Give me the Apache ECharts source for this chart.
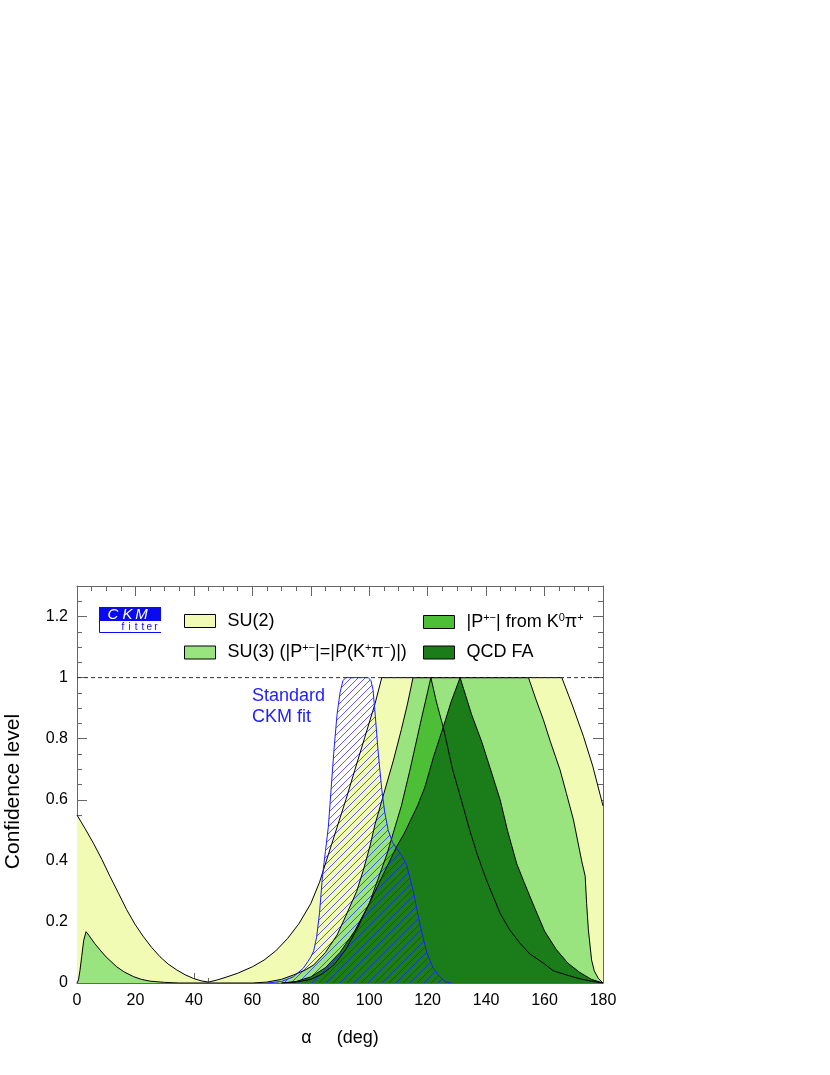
<!DOCTYPE html>
<html><head><meta charset="utf-8">
<script src="https://cdn.jsdelivr.net/npm/echarts@6/dist/echarts.min.js"></script>
<style>html,body{margin:0;padding:0;background:#fff}#c{width:830px;height:1075px}</style>
</head><body><div id="c"></div>
<script>
// ---- data (alpha in degrees, confidence level) ----
const su2Alpha = [0, 2.8, 5.6, 8.5, 11.3, 14.2, 17, 19.8, 22.7, 25.5, 28.4, 31.2, 34.1, 37, 39.8, 42.5, 45, 48, 51, 55, 60, 64, 68, 72, 76, 80, 83, 86, 89, 92, 95, 98.5, 102, 104.3, 165.9, 169.5, 173.3, 176.5, 180];
const su2CL    = [0.55, 0.505, 0.458, 0.405, 0.349, 0.294, 0.24, 0.193, 0.152, 0.117, 0.086, 0.062, 0.043, 0.027, 0.015, 0.007, 0.003, 0.01, 0.019, 0.032, 0.053, 0.075, 0.105, 0.145, 0.195, 0.26, 0.33, 0.42, 0.51, 0.60, 0.695, 0.805, 0.915, 1.0, 1.0, 0.91, 0.808, 0.71, 0.58];

const su3Alpha = [0, 0.5, 1, 1.6, 2.3, 3.1, 4, 6, 7.9, 10, 13.6, 16, 19.3, 22, 25, 30, 35, 60, 65, 70, 74, 78, 81, 85, 89, 92, 95.7, 98, 100.3, 102, 105, 108.3, 111, 113, 115, 154.5, 157, 159.6, 162, 165.3, 167.5, 169.9, 172.7, 173.9, 174.4, 175, 176.1, 177, 178.4, 180];
const su3CL    = [0, 0.01, 0.04, 0.086, 0.14, 0.168, 0.157, 0.13, 0.108, 0.085, 0.053, 0.037, 0.021, 0.012, 0.006, 0.002, 0, 0, 0.003, 0.012, 0.026, 0.042, 0.059, 0.10, 0.157, 0.22, 0.30, 0.37, 0.45, 0.52, 0.62, 0.73, 0.83, 0.91, 1.0, 1.0, 0.93, 0.862, 0.79, 0.698, 0.62, 0.534, 0.40, 0.35, 0.26, 0.174, 0.075, 0.04, 0.015, 0];

const pAlpha = [70, 75, 80, 84, 88, 92, 96, 100, 103, 106, 108.5, 111, 114, 117.5, 121.1, 123, 125.4, 128.5, 131.5, 134.4, 137, 140, 144.8, 148, 151.6, 155, 159.6, 163, 167.6, 172, 176, 180];
const pCL    = [0, 0.003, 0.012, 0.03, 0.06, 0.11, 0.18, 0.26, 0.34, 0.42, 0.50, 0.58, 0.70, 0.85, 1.0, 0.92, 0.835, 0.70, 0.60, 0.50, 0.42, 0.34, 0.228, 0.175, 0.13, 0.095, 0.065, 0.04, 0.026, 0.014, 0.006, 0];

const qcdAlpha = [70, 75, 80, 85, 90, 95, 100, 105, 109.4, 112, 114, 116.5, 119, 122, 125.4, 128, 131.1, 135, 138.5, 141.5, 144.8, 147.3, 150.5, 153, 156, 160, 164, 168, 172, 176, 180];
const qcdCL    = [0, 0.005, 0.02, 0.05, 0.10, 0.17, 0.26, 0.36, 0.447, 0.49, 0.53, 0.58, 0.64, 0.74, 0.84, 0.92, 1.0, 0.88, 0.79, 0.70, 0.60, 0.50, 0.39, 0.33, 0.26, 0.17, 0.11, 0.065, 0.035, 0.012, 0];

const ckmAlpha = [65, 70, 74, 77.4, 79, 80, 81, 82, 83, 84, 85, 86, 87, 88, 89, 90, 91, 92, 99.7, 100.6, 101.3, 102, 103.1, 104.3, 105.3, 106.5, 108, 109.4, 111, 112.8, 115.1, 117.4, 119.7, 121.9, 124.2, 126, 128];
const ckmCL    = [0, 0.005, 0.02, 0.048, 0.07, 0.085, 0.105, 0.15, 0.23, 0.35, 0.43, 0.51, 0.64, 0.77, 0.88, 0.95, 0.99, 1.0, 1.0, 0.99, 0.96, 0.884, 0.753, 0.633, 0.56, 0.50, 0.46, 0.44, 0.42, 0.387, 0.30, 0.19, 0.10, 0.048, 0.02, 0.005, 0];

const refAlpha = [0, 180];
const refCL = [1, 1];

const xTicks = {min: 0, max: 180, interval: 20};
const yTicks = {min: 0, max: 1.3, interval: 0.2, minor: 0.05};

// ---- helpers ----
function pairs(xs, ys) { return xs.map((x, i) => [x, ys[i]]); }
function hatchCanvas() {
  const s = 7, c = document.createElement('canvas');
  c.width = s; c.height = s;
  const g = c.getContext('2d');
  g.strokeStyle = 'rgba(30,30,255,0.7)';
  g.lineWidth = 1;
  for (let k = -1; k <= 1; k++) { g.beginPath(); g.moveTo(k * s, s); g.lineTo(k * s + s, 0); g.stroke(); }
  return c;
}

const FONT = '"Liberation Sans", Arial, Helvetica, sans-serif';
const AX = '#666';
const C_SU2 = '#f1fbb4', C_SU3 = '#9ae47f', C_P = '#4cbf36', C_QCD = '#1a7d1a', C_BLUE = '#1e1eff', C_LOGO = '#0a0aee';

function fill(name, xs, ys, color) {
  return {type: 'line', name, data: pairs(xs, ys), symbol: 'none', showSymbol: false, silent: true,
    lineStyle: {width: 0}, itemStyle: {color}, areaStyle: {color, opacity: 1}};
}
function outline(xs, ys, color) {
  return {type: 'line', name: '_o', data: pairs(xs, ys), symbol: 'none', showSymbol: false, silent: true,
    lineStyle: {width: 1, color}};
}

const rich = {
  sp: {width: 7},
  n: {fontSize: 18, fontFamily: FONT, color: '#000', lineHeight: 20},
  s: {fontSize: 11, fontFamily: FONT, color: '#000', lineHeight: 12, verticalAlign: 'top'}
};
const labels = {
  'SU(2)': '{sp| }{n|SU(2)}',
  'SU(3)': '{sp| }{n|SU(3) (|P}{s|+−}{n||=|P(K}{s|+}{n|π}{s|−}{n|)|)}',
  'P': '{sp| }{n||P}{s|+−}{n|| from K}{s|0}{n|π}{s|+}',
  'QCD FA': '{sp| }{n|QCD FA}'
};
const legendBase = {orient: 'vertical', top: 612, padding: 0, itemWidth: 31, itemHeight: 13, itemGap: 12.5,
  icon: 'rect', selectedMode: false, itemStyle: {borderColor: '#000', borderWidth: 1},
  formatter: n => labels[n], textStyle: {rich}};

function axisCommon(extra) {
  return Object.assign({type: 'value', splitLine: {show: false},
    axisLine: {onZero: false, lineStyle: {color: AX, width: 1}},
    axisTick: {inside: true, length: 10, lineStyle: {color: AX}}}, extra);
}

const chart = echarts.init(document.getElementById('c'), null, {renderer: 'canvas'});
chart.setOption({
  animation: false,
  backgroundColor: '#fff',
  grid: {left: 77, right: 227, top: 586, bottom: 92, containLabel: false, outerBoundsMode: 'none'},
  legend: [
    Object.assign({}, legendBase, {left: 184, data: [{name: 'SU(2)', itemStyle: {color: C_SU2}}, {name: 'SU(3)', itemStyle: {color: C_SU3}}]}),
    Object.assign({}, legendBase, {left: 423, data: [{name: 'P', itemStyle: {color: C_P}}, {name: 'QCD FA', itemStyle: {color: C_QCD}}]})
  ],
  xAxis: [
    axisCommon({position: 'bottom', min: xTicks.min, max: xTicks.max, interval: xTicks.interval,
      minorTick: {show: true, splitNumber: 4, length: 5, lineStyle: {color: AX}},
      axisLabel: {fontSize: 16, fontFamily: FONT, color: '#000', margin: 10},
      name: 'α     (deg)', nameLocation: 'middle', nameGap: 46,
      nameTextStyle: {fontSize: 18, fontFamily: FONT, color: '#000'}}),
    axisCommon({position: 'top', min: xTicks.min, max: xTicks.max, interval: xTicks.interval,
      minorTick: {show: true, splitNumber: 4, length: 5, lineStyle: {color: AX}},
      axisLabel: {show: false}})
  ],
  yAxis: [
    axisCommon({position: 'left', min: yTicks.min, max: yTicks.max, interval: yTicks.interval,
      axisLabel: {fontSize: 16, fontFamily: FONT, color: '#000', margin: 9, showMaxLabel: false,
        formatter: v => String(+(+v).toFixed(2))},
      name: 'Confidence level', nameLocation: 'middle', nameGap: 53, nameRotate: 90,
      nameTextStyle: {fontSize: 21, fontFamily: FONT, color: '#000', padding: [0, 14, 0, 0]}}),
    axisCommon({position: 'left', min: yTicks.min, max: yTicks.max, interval: yTicks.minor,
      axisLine: {show: false, onZero: false}, axisTick: {inside: true, length: 5, lineStyle: {color: AX}},
      axisLabel: {show: false}}),
    axisCommon({position: 'right', min: yTicks.min, max: yTicks.max, interval: yTicks.interval,
      axisLabel: {show: false}}),
    axisCommon({position: 'right', min: yTicks.min, max: yTicks.max, interval: yTicks.minor,
      axisLine: {show: false, onZero: false}, axisTick: {inside: true, length: 5, lineStyle: {color: AX}},
      axisLabel: {show: false}})
  ],
  graphic: [
    {type: 'rect', shape: {x: 99, y: 607, width: 62, height: 14}, style: {fill: C_LOGO}},
    {type: 'group', children: ['C', 'K', 'M'].map((ch, i) => ({type: 'text', x: [113, 127.5, 141.5][i], y: 614.5,
      style: {text: ch, fill: '#fff', font: 'italic 15px ' + FONT, align: 'center', verticalAlign: 'middle'}}))},
    {type: 'polyline', shape: {points: [[99.5, 621], [99.5, 632.5], [161, 632.5]]}, style: {stroke: C_LOGO, lineWidth: 1, fill: null}},
    {type: 'group', children: 'fitter'.split('').map((ch, i) => ({type: 'text', x: 123 + i * 6.6, y: 627.5,
      style: {text: ch, fill: C_LOGO, font: '10px ' + FONT, align: 'center', verticalAlign: 'middle'}}))},
    {type: 'text', x: 252, y: 686, style: {text: 'Standard\nCKM fit', fill: C_BLUE, font: '18px ' + FONT, lineHeight: 21}}
  ],
  series: [
    fill('SU(2)', su2Alpha, su2CL, C_SU2),
    fill('SU(3)', su3Alpha, su3CL, C_SU3),
    fill('P', pAlpha, pCL, C_P),
    fill('QCD FA', qcdAlpha, qcdCL, C_QCD),
    outline(su2Alpha, su2CL, '#000'),
    outline(su3Alpha, su3CL, '#000'),
    outline(pAlpha, pCL, '#000'),
    outline(qcdAlpha, qcdCL, '#000'),
    {type: 'line', name: '_ref', data: pairs(refAlpha, refCL), symbol: 'none', silent: true,
      lineStyle: {color: '#333', width: 1, type: [4, 3]}},
    {type: 'line', name: '_ckm', data: pairs(ckmAlpha, ckmCL), symbol: 'none', silent: true,
      lineStyle: {width: 1, color: C_BLUE}, areaStyle: {color: {image: hatchCanvas(), repeat: 'repeat'}, opacity: 1}}
  ]
});
</script>
</body></html>
